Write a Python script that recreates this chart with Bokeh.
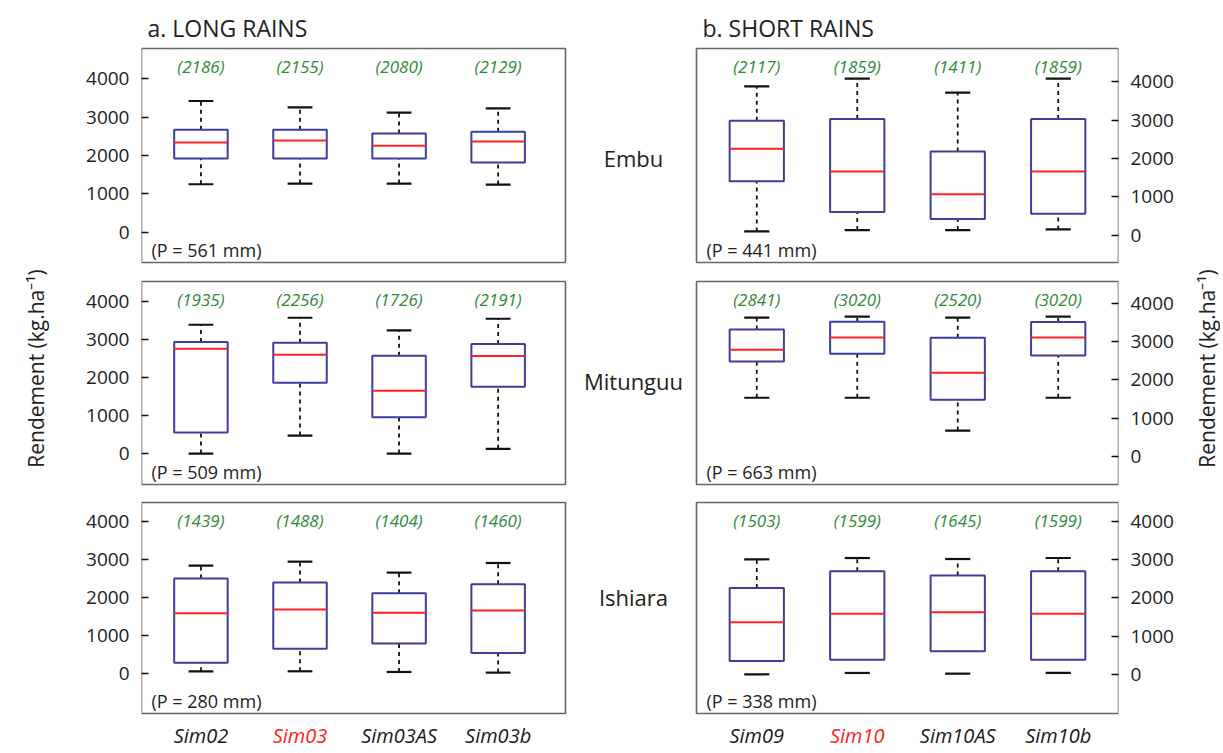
import math
from bokeh.plotting import figure
from bokeh.models import Range1d, FixedTicker, BoxAnnotation
from bokeh.layouts import column, row
from bokeh.embed import file_html
from bokeh.resources import INLINE
from bokeh.core.properties import value

FONT = "Open Sans"

# ---------------- data ----------------
lr_sims = ["Sim02", "Sim03", "Sim03AS", "Sim03b"]
sr_sims = ["Sim09", "Sim10", "Sim10AS", "Sim10b"]
sim_label_colors = ["#1a1a1a", "#ff2020", "#1a1a1a", "#1a1a1a"]
sites = ["Embu", "Mitunguu", "Ishiara"]
season_titles = ["a. LONG RAINS", "b. SHORT RAINS"]

# Long rains (kg/ha): lower whisker, q1, median, q3, upper whisker, mean
lr_embu_lower = [1249, 1266, 1266, 1240]
lr_embu_q1 = [1921, 1921, 1921, 1817]
lr_embu_med = [2341, 2393, 2253, 2367]
lr_embu_q3 = [2672, 2672, 2576, 2620]
lr_embu_upper = [3424, 3258, 3118, 3231]
lr_embu_mean = [2186, 2155, 2080, 2129]

lr_mit_lower = [0, 473, 0, 123]
lr_mit_q1 = [551, 1864, 954, 1759]
lr_mit_med = [2757, 2600, 1654, 2565]
lr_mit_q3 = [2932, 2915, 2573, 2880]
lr_mit_upper = [3387, 3571, 3239, 3545]
lr_mit_mean = [1935, 2256, 1726, 2191]

lr_ish_lower = [70, 70, 52, 35]
lr_ish_q1 = [296, 661, 800, 548]
lr_ish_med = [1591, 1687, 1600, 1661]
lr_ish_q3 = [2496, 2391, 2113, 2348]
lr_ish_upper = [2835, 2939, 2652, 2904]
lr_ish_mean = [1439, 1488, 1404, 1460]

lr_rain = [561, 509, 280]

# Short rains
sr_embu_lower = [96, 131, 131, 148]
sr_embu_q1 = [1406, 603, 419, 559]
sr_embu_med = [2253, 1659, 1066, 1659]
sr_embu_q3 = [2987, 3031, 2183, 3031]
sr_embu_upper = [3886, 4087, 3721, 4087]
sr_embu_mean = [2117, 1859, 1411, 1859]

sr_mit_lower = [1537, 1537, 681, 1537]
sr_mit_q1 = [2480, 2681, 1485, 2638]
sr_mit_med = [2786, 3109, 2192, 3109]
sr_mit_q3 = [3319, 3520, 3100, 3511]
sr_mit_upper = [3624, 3651, 3624, 3651]
sr_mit_mean = [2841, 3020, 2520, 3020]

sr_ish_lower = [0, 35, 17, 35]
sr_ish_q1 = [348, 383, 600, 383]
sr_ish_med = [1365, 1583, 1626, 1583]
sr_ish_q3 = [2261, 2696, 2583, 2696]
sr_ish_upper = [3009, 3043, 3017, 3043]
sr_ish_mean = [1503, 1599, 1645, 1599]

sr_rain = [441, 663, 338]

y_ticks = [0, 1000, 2000, 3000, 4000]
y_label = "Rendement (kg.ha\u207b\u00b9)"

# ---------------- style / layout ----------------
BOX_BLUE = "#3e3e9e"
MED_RED = "#ff2222"
GREEN = "#2f8a3a"
FRAME = "#666666"
TXT = "#222222"

lr_stats = [
    (lr_embu_lower, lr_embu_q1, lr_embu_med, lr_embu_q3, lr_embu_upper, lr_embu_mean),
    (lr_mit_lower, lr_mit_q1, lr_mit_med, lr_mit_q3, lr_mit_upper, lr_mit_mean),
    (lr_ish_lower, lr_ish_q1, lr_ish_med, lr_ish_q3, lr_ish_upper, lr_ish_mean),
]
sr_stats = [
    (sr_embu_lower, sr_embu_q1, sr_embu_med, sr_embu_q3, sr_embu_upper, sr_embu_mean),
    (sr_mit_lower, sr_mit_q1, sr_mit_med, sr_mit_q3, sr_mit_upper, sr_mit_mean),
    (sr_ish_lower, sr_ish_q1, sr_ish_med, sr_ish_q3, sr_ish_upper, sr_ish_mean),
]

# page geometry (px)
PAGE_H = 750
row_span = [(0, 272), (272, 493), (493, PAGE_H)]   # figure vertical extents
box_span = [(48, 262), (281, 484), (502, 713)]      # panel box vertical extents
LEFT_BOX = (141, 565)
RIGHT_BOX = (696, 1118)
SPLIT = 694          # boundary between left and right figures
LEFT_LABEL_W = 50    # narrow strip carrying the left rotated label
PAGE_R = 1220
RIGHT_LABEL_W = 32
YLABEL_Y = 368       # page y of the rotated labels' centre

lr_yranges = [(-795, 4795), (-814, 4525), (-1035, 4487)]
sr_yranges = [(-716, 4873), (-725, 4568), (-1026, 4496)]
lr_xrange = (0.40, 4.68)
sr_xrange = (0.40, 4.60)
row_label_y = [157, 380, 596]
ROW_LABEL_X = 633


def style_axis(ax):
    ax.ticker = FixedTicker(ticks=y_ticks)
    ax.axis_line_color = None
    ax.major_tick_in = 7
    ax.major_tick_out = 0
    ax.minor_tick_in = 0
    ax.minor_tick_out = 0
    ax.major_tick_line_color = "#111111"
    ax.major_tick_line_width = 1.5
    ax.major_label_standoff = 12
    ax.major_label_text_font = FONT
    ax.major_label_text_font_size = "19px"
    ax.major_label_text_color = TXT


def make_panel(side, r, stats, rain, yr, xr, sims):
    lower, q1, med, q3, upper, mean = stats
    top_pg, bot_pg = row_span[r]
    btop, bbot = box_span[r]
    fh = bot_pg - top_pg
    dy = (yr[1] - yr[0]) / (bbot - btop)
    y0 = yr[0] - (bot_pg - bbot) * dy
    y1 = yr[1] + (btop - top_pg) * dy

    if side == "left":
        bl = LEFT_BOX[0] - LEFT_LABEL_W
        br = 0
        frame_l, frame_r = LEFT_BOX[0], SPLIT
        box_l, box_r = LEFT_BOX
    else:
        bl = 0
        br = (PAGE_R - RIGHT_LABEL_W) - RIGHT_BOX[1]
        frame_l, frame_r = SPLIT, RIGHT_BOX[1]
        box_l, box_r = RIGHT_BOX
    dx = (xr[1] - xr[0]) / (box_r - box_l)
    x0 = xr[0] - (box_l - frame_l) * dx
    x1 = xr[1] + (frame_r - box_r) * dx
    fw = frame_r - frame_l

    p = figure(width=bl + fw + br, height=fh,
               x_range=Range1d(x0, x1), y_range=Range1d(y0, y1),
               output_backend="svg", toolbar_location=None,
               x_axis_location=None, y_axis_location=side,
               min_border_left=bl, min_border_right=br,
               min_border_top=0, min_border_bottom=0)
    p.grid.visible = False
    p.outline_line_color = None
    p.background_fill_color = "white"
    p.border_fill_color = "white"
    style_axis(p.yaxis[0])

    # panel frame
    p.add_layout(BoxAnnotation(left=xr[0], right=xr[1], bottom=yr[0], top=yr[1],
                               fill_color=None, fill_alpha=0, line_color=FRAME,
                               line_alpha=1.0, line_width=1.6, level="underlay"))

    xs = [i + 1 for i in range(len(sims))]
    half_cap = 0.125
    half_box = 0.27

    # whiskers
    p.segment(x0=xs, y0=q3, x1=xs, y1=upper, line_color="#111111",
              line_width=1.8, line_dash="4 4")
    if not (side == "right" and r == 2):
        p.segment(x0=xs, y0=lower, x1=xs, y1=q1, line_color="#111111",
                  line_width=1.8, line_dash="4 4")
    p.segment(x0=[x - half_cap for x in xs], y0=upper, x1=[x + half_cap for x in xs], y1=upper,
              line_color="#111111", line_width=2.2)
    p.segment(x0=[x - half_cap for x in xs], y0=lower, x1=[x + half_cap for x in xs], y1=lower,
              line_color="#111111", line_width=2.2)
    # boxes + medians
    p.vbar(x=xs, width=2 * half_box, top=q3, bottom=q1, fill_color="white",
           line_color=BOX_BLUE, line_width=2)
    p.segment(x0=[x - half_box for x in xs], y0=med, x1=[x + half_box for x in xs], y1=med,
              line_color=MED_RED, line_width=2)

    # mean labels
    ytxt = yr[1] - 17.5 * dy
    p.text(x=xs, y=[ytxt] * len(xs), text=["(%d)" % m for m in mean],
           text_font=value(FONT), text_font_style="italic", text_font_size="17px",
           text_color=GREEN, text_align="center", text_baseline="middle")

    # rainfall label
    p.text(x=[xr[0] + 10 * dx], y=[yr[0] + 13 * dy], text=["(P = %d mm)" % rain],
           text_font=value(FONT), text_font_size="18px", text_color=TXT,
           text_align="left", text_baseline="middle")

    # season title
    if r == 0:
        p.text(x=[xr[0] + 6 * dx], y=[yr[1] + 21 * dy],
               text=[season_titles[0 if side == "left" else 1]],
               text_font=value(FONT), text_font_size="23px", text_color=TXT,
               text_align="left", text_baseline="middle")
    # site label (between the columns)
    if side == "left":
        p.text(x=[xr[0] + (ROW_LABEL_X - box_l) * dx],
               y=[yr[1] - (row_label_y[r] - btop) * dy], text=[sites[r]],
               text_font=value(FONT), text_font_size="22px", text_color=TXT,
               text_align="center", text_baseline="middle")
    # simulation names under the bottom panels
    if r == 2:
        p.text(x=xs, y=[yr[0] - 22 * dy] * len(xs), text=sims,
               text_font=value(FONT), text_font_size="20px", text_font_style="italic",
               text_color=sim_label_colors, text_align="center", text_baseline="middle")
    return p


def label_fig(w, cx):
    p = figure(width=w, height=PAGE_H, x_range=Range1d(0, w), y_range=Range1d(0, PAGE_H),
               output_backend="svg", toolbar_location=None,
               x_axis_location=None, y_axis_location=None,
               min_border_left=0, min_border_right=0, min_border_top=0, min_border_bottom=0)
    p.grid.visible = False
    p.outline_line_color = None
    p.background_fill_color = "white"
    p.border_fill_color = "white"
    p.text(x=[cx], y=[PAGE_H - YLABEL_Y], text=[y_label], angle=math.pi / 2,
           text_font=value(FONT), text_font_size="21px", text_color=TXT,
           text_align="center", text_baseline="middle")
    return p


left_col = column(*[make_panel("left", r, lr_stats[r], lr_rain[r], lr_yranges[r], lr_xrange, lr_sims)
                    for r in range(3)], spacing=0)
right_col = column(*[make_panel("right", r, sr_stats[r], sr_rain[r], sr_yranges[r], sr_xrange, sr_sims)
                     for r in range(3)], spacing=0)

layout = row(label_fig(LEFT_LABEL_W, 35), left_col, right_col,
             label_fig(RIGHT_LABEL_W, 1206 - (PAGE_R - RIGHT_LABEL_W)), spacing=0)

with open("out.html", "w") as f:
    f.write(file_html(layout, INLINE))
